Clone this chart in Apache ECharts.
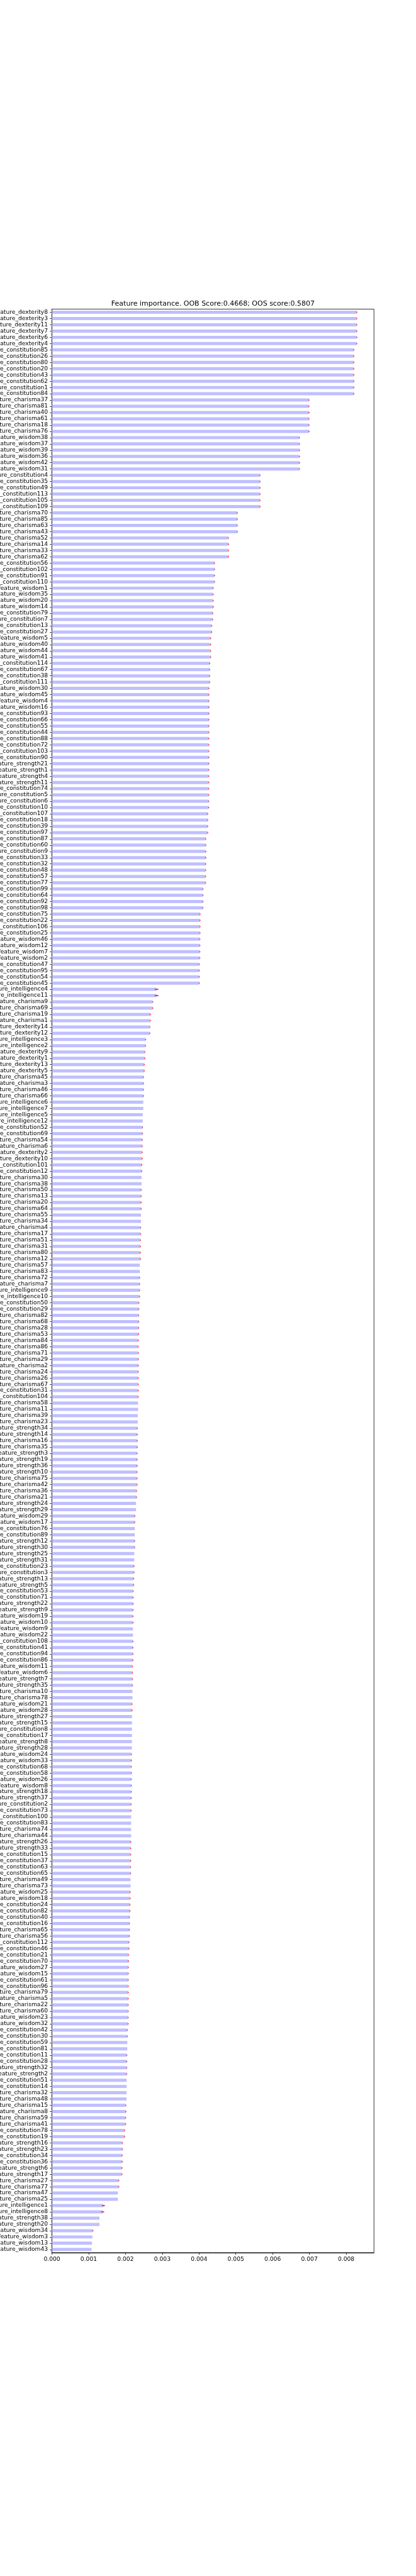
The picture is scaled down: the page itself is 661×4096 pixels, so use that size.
<!DOCTYPE html>
<html>
<head>
<meta charset="utf-8">
<script src="https://cdn.jsdelivr.net/npm/echarts@6/dist/echarts.min.js"></script>
<style>
html,body{margin:0;padding:0;background:#fff;}
#chart{width:661px;height:4096px;}
</style>
</head>
<body>
<div id="chart"></div>
<script>
// ---- data (top-to-bottom order) ----
const chartTitle = "Feature importance. OOB Score:0.4668; OOS score:0.5807";
const xTickValues = [0, 0.001, 0.002, 0.003, 0.004, 0.005, 0.006, 0.007, 0.008];
const xMax = 0.008756;

const features = [
"feature_dexterity8","feature_dexterity3","feature_dexterity11","feature_dexterity7","feature_dexterity6","feature_dexterity4",
"feature_constitution85","feature_constitution26","feature_constitution80","feature_constitution20","feature_constitution43","feature_constitution62","feature_constitution1","feature_constitution84",
"feature_charisma37","feature_charisma81","feature_charisma40","feature_charisma61","feature_charisma18","feature_charisma76",
"feature_wisdom38","feature_wisdom37","feature_wisdom39","feature_wisdom36","feature_wisdom42","feature_wisdom31",
"feature_constitution4","feature_constitution35","feature_constitution49","feature_constitution113","feature_constitution105","feature_constitution109",
"feature_charisma70","feature_charisma85","feature_charisma63","feature_charisma43",
"feature_charisma52","feature_charisma14","feature_charisma33","feature_charisma62",
"feature_constitution56","feature_constitution102","feature_constitution91","feature_constitution110",
"feature_wisdom1","feature_wisdom35","feature_wisdom20","feature_wisdom14",
"feature_constitution79","feature_constitution7",
"feature_constitution13","feature_constitution27",
"feature_wisdom5","feature_wisdom40","feature_wisdom44","feature_wisdom41",
"feature_constitution114","feature_constitution67","feature_constitution38","feature_constitution111",
"feature_wisdom30","feature_wisdom45","feature_wisdom4","feature_wisdom16",
"feature_constitution93","feature_constitution66","feature_constitution55","feature_constitution44",
"feature_constitution88","feature_constitution72","feature_constitution103","feature_constitution90",
"feature_strength21","feature_strength1","feature_strength4","feature_strength11",
"feature_constitution74","feature_constitution5","feature_constitution6","feature_constitution10",
"feature_constitution107","feature_constitution18","feature_constitution39","feature_constitution97",
"feature_constitution87","feature_constitution60","feature_constitution9","feature_constitution33",
"feature_constitution32","feature_constitution48","feature_constitution57","feature_constitution77",
"feature_constitution99","feature_constitution64","feature_constitution92","feature_constitution98",
"feature_constitution75","feature_constitution22","feature_constitution106","feature_constitution25",
"feature_wisdom46","feature_wisdom12",
"feature_wisdom7","feature_wisdom2",
"feature_constitution47","feature_constitution95","feature_constitution54","feature_constitution45",
"feature_intelligence4","feature_intelligence11",
"feature_charisma9","feature_charisma69",
"feature_charisma19","feature_charisma1",
"feature_dexterity14","feature_dexterity12",
"feature_intelligence3","feature_intelligence2",
"feature_dexterity9","feature_dexterity1",
"feature_dexterity13","feature_dexterity5",
"feature_charisma45","feature_charisma3","feature_charisma46","feature_charisma66",
"feature_intelligence6","feature_intelligence7",
"feature_intelligence5","feature_intelligence12",
"feature_constitution52","feature_constitution69",
"feature_charisma54","feature_charisma6",
"feature_dexterity2","feature_dexterity10",
"feature_constitution101","feature_constitution12",
"feature_charisma30","feature_charisma38",
"feature_charisma50","feature_charisma13","feature_charisma20","feature_charisma64",
"feature_charisma55","feature_charisma34",
"feature_charisma4","feature_charisma17",
"feature_charisma51","feature_charisma31","feature_charisma80","feature_charisma12",
"feature_charisma57","feature_charisma83",
"feature_charisma72","feature_charisma7",
"feature_intelligence9","feature_intelligence10",
"feature_constitution50","feature_constitution29",
"feature_charisma82","feature_charisma68","feature_charisma28","feature_charisma53",
"feature_charisma84","feature_charisma86","feature_charisma71","feature_charisma29","feature_charisma2","feature_charisma24","feature_charisma26","feature_charisma67",
"feature_constitution31","feature_constitution104",
"feature_charisma58","feature_charisma11",
"feature_charisma39","feature_charisma23",
"feature_strength34","feature_strength14",
"feature_charisma16","feature_charisma35",
"feature_strength3","feature_strength19","feature_strength36","feature_strength10",
"feature_charisma75","feature_charisma42",
"feature_charisma36","feature_charisma21",
"feature_strength24","feature_strength29",
"feature_wisdom29","feature_wisdom17",
"feature_constitution76","feature_constitution89",
"feature_strength12","feature_strength30",
"feature_strength25","feature_strength31",
"feature_constitution23","feature_constitution3",
"feature_strength13","feature_strength5",
"feature_constitution53","feature_constitution71",
"feature_strength22","feature_strength9",
"feature_wisdom19","feature_wisdom10",
"feature_wisdom9","feature_wisdom22",
"feature_constitution108","feature_constitution41","feature_constitution94","feature_constitution86",
"feature_wisdom11","feature_wisdom6",
"feature_strength7","feature_strength35",
"feature_charisma10","feature_charisma78",
"feature_wisdom21","feature_wisdom28",
"feature_strength27","feature_strength15",
"feature_constitution8","feature_constitution17",
"feature_strength8","feature_strength28",
"feature_wisdom24","feature_wisdom33",
"feature_constitution68","feature_constitution58",
"feature_wisdom26","feature_wisdom8",
"feature_strength18","feature_strength37",
"feature_constitution2","feature_constitution73",
"feature_constitution100","feature_constitution83",
"feature_charisma74","feature_charisma44",
"feature_strength26","feature_strength33",
"feature_constitution15","feature_constitution37",
"feature_constitution63","feature_constitution65",
"feature_charisma49","feature_charisma73",
"feature_wisdom25","feature_wisdom18",
"feature_constitution24","feature_constitution82",
"feature_constitution40","feature_constitution16",
"feature_charisma65","feature_charisma56",
"feature_constitution112","feature_constitution46",
"feature_constitution21","feature_constitution70",
"feature_wisdom27","feature_wisdom15",
"feature_constitution61","feature_constitution96",
"feature_charisma79","feature_charisma5",
"feature_charisma22","feature_charisma60",
"feature_wisdom23","feature_wisdom32",
"feature_constitution42","feature_constitution30",
"feature_constitution59","feature_constitution81",
"feature_constitution11","feature_constitution28",
"feature_strength32","feature_strength2",
"feature_constitution51","feature_constitution14",
"feature_charisma32","feature_charisma48",
"feature_charisma15","feature_charisma8",
"feature_charisma59","feature_charisma41",
"feature_constitution78","feature_constitution19",
"feature_strength16","feature_strength23",
"feature_constitution34","feature_constitution36",
"feature_strength6","feature_strength17",
"feature_charisma27","feature_charisma77",
"feature_charisma47","feature_charisma25",
"feature_intelligence1","feature_intelligence8",
"feature_strength38","feature_strength20",
"feature_wisdom34","feature_wisdom3","feature_wisdom13","feature_wisdom43"
];

const importance = [
0.00829,0.00829,0.00829,0.00829,0.00829,0.00829,
0.00821,0.00821,0.00821,0.00821,0.00821,0.00821,0.00821,0.00821,
0.00699,0.00699,0.00699,0.00699,0.00699,0.00699,
0.00673,0.00673,0.00673,0.00673,0.00673,0.00673,
0.00566,0.00566,0.00566,0.00566,0.00566,0.00566,
0.00504,0.00504,0.00504,0.00504,
0.00480,0.00480,0.00480,0.00480,
0.00442,0.00442,0.00442,0.00442,
0.004385,0.004385,0.004385,0.004385,
0.00437,0.00437,
0.004345,0.004345,
0.004317,0.004317,0.004317,0.004317,
0.00429,0.00429,0.00429,0.00429,
0.00427,0.00427,0.00427,0.00427,
0.004268,0.004268,0.004268,0.004268,
0.004266,0.004266,0.004266,0.004266,
0.004265,0.004265,0.004265,0.004265,
0.004263,0.004263,0.004263,0.004263,
0.004236,0.004236,0.004236,0.004236,
0.004184,0.004184,0.004184,0.004184,
0.004179,0.004179,0.004179,0.004179,
0.004106,0.004106,0.004106,0.004106,
0.004027,0.004027,0.004027,0.004027,
0.004022,0.004022,
0.004021,0.004021,
0.004006,0.004006,0.004006,0.004006,
0.002845,0.002845,
0.002741,0.002741,
0.002678,0.002678,
0.002662,0.002662,
0.002547,0.002547,
0.002526,0.002526,
0.002510,0.002510,
0.002490,0.002490,0.002490,0.002490,
0.002484,0.002484,
0.002469,0.002469,
0.002463,0.002463,
0.002458,0.002458,
0.002456,0.002456,
0.002442,0.002442,
0.002437,0.002437,
0.002427,0.002427,0.002427,0.002427,
0.002422,0.002422,
0.002411,0.002411,
0.002406,0.002406,0.002406,0.002406,
0.002390,0.002390,
0.002385,0.002385,
0.002384,0.002384,
0.002364,0.002364,
0.002359,0.002359,0.002359,0.002359,
0.002348,0.002348,0.002348,0.002348,0.002348,0.002348,0.002348,0.002348,
0.002347,0.002347,
0.002343,0.002343,
0.002333,0.002333,
0.002322,0.002322,
0.002321,0.002321,
0.002317,0.002317,0.002317,0.002317,
0.002316,0.002316,
0.002301,0.002301,
0.002286,0.002286,
0.002254,0.002254,
0.002253,0.002253,
0.002249,0.002249,
0.002238,0.002238,
0.002233,0.002233,
0.002223,0.002223,
0.002207,0.002207,
0.002206,0.002206,
0.002205,0.002205,
0.002204,0.002204,
0.002202,0.002202,0.002202,0.002202,
0.002191,0.002191,
0.002190,0.002190,
0.002189,0.002189,
0.002181,0.002181,
0.002176,0.002176,
0.002175,0.002175,
0.002174,0.002174,
0.002160,0.002160,
0.002159,0.002159,
0.002158,0.002158,
0.002157,0.002157,
0.002154,0.002154,
0.002153,0.002153,
0.002152,0.002152,
0.002144,0.002144,
0.002143,0.002143,
0.002139,0.002139,
0.002138,0.002138,
0.002129,0.002129,
0.002123,0.002123,
0.002108,0.002108,
0.002107,0.002107,
0.002097,0.002097,
0.002082,0.002082,
0.002076,0.002076,
0.002075,0.002075,
0.002074,0.002074,
0.002073,0.002073,
0.002072,0.002072,
0.002050,0.002050,
0.002049,0.002049,
0.002035,0.002035,
0.002034,0.002034,
0.002033,0.002033,
0.002030,0.002030,
0.002011,0.002011,
0.002004,0.002004,
0.001978,0.001978,
0.001918,0.001918,
0.001912,0.001912,
0.001905,0.001905,
0.001819,0.001819,
0.001793,0.001793,
0.001400,0.001380,
0.001292,0.001292,
0.001114,0.001101,0.001088,0.001075
];

const errors = [
1e-5,1e-5,1e-5,1e-5,1e-5,1e-5,
1e-5,1e-5,1e-5,1e-5,1e-5,1e-5,1e-5,1e-5,
1e-5,1e-5,1e-5,1e-5,1e-5,1e-5,
1e-5,1e-5,1e-5,1e-5,1e-5,1e-5,
1e-5,1e-5,1e-5,1e-5,1e-5,1e-5,
1e-5,1e-5,1e-5,1e-5,
1e-5,1e-5,1e-5,1e-5,
1e-5,1e-5,1e-5,1e-5,
1e-5,1e-5,1e-5,1e-5,
1e-5,1e-5,
1e-5,1e-5,
1e-5,1e-5,1e-5,1e-5,
1e-5,1e-5,1e-5,1e-5,
1e-5,1e-5,1e-5,1e-5,
1e-5,1e-5,1e-5,1e-5,
1e-5,1e-5,1e-5,1e-5,
1e-5,1e-5,1e-5,1e-5,
1e-5,1e-5,1e-5,1e-5,
1e-5,1e-5,1e-5,1e-5,
1e-5,1e-5,1e-5,1e-5,
1e-5,1e-5,1e-5,1e-5,
1e-5,1e-5,1e-5,1e-5,
1e-5,1e-5,1e-5,1e-5,
1e-5,1e-5,
1e-5,1e-5,
1e-5,1e-5,1e-5,1e-5,
5e-5,5e-5,
1e-5,1e-5,
1e-5,1e-5,
1e-5,1e-5,
1e-5,1e-5,
1e-5,1e-5,
1e-5,1e-5,
1e-5,1e-5,1e-5,1e-5,
0,0,
0,0,
1e-5,1e-5,
1e-5,1e-5,
1e-5,1e-5,
1e-5,1e-5,
0,0,
1e-5,1e-5,1e-5,1e-5,
0,0,
1e-5,1e-5,
1e-5,1e-5,1e-5,1e-5,
0,0,
1e-5,1e-5,
1e-5,1e-5,
1e-5,1e-5,
1e-5,1e-5,1e-5,1e-5,
1e-5,1e-5,1e-5,1e-5,1e-5,1e-5,1e-5,1e-5,
1e-5,1e-5,
0,0,
0,0,
1e-5,1e-5,
1e-5,1e-5,
1e-5,1e-5,1e-5,1e-5,
1e-5,1e-5,
1e-5,1e-5,
0,0,
1e-5,1e-5,
0,0,
1e-5,1e-5,
0,0,
1e-5,1e-5,
1e-5,1e-5,
1e-5,1e-5,
1e-5,1e-5,
1e-5,1e-5,
0,0,
1e-5,1e-5,1e-5,1e-5,
1e-5,1e-5,
1e-5,1e-5,
0,0,
1e-5,1e-5,
0,0,
0,0,
0,0,
1e-5,1e-5,
1e-5,1e-5,
1e-5,1e-5,
1e-5,1e-5,
1e-5,1e-5,
0,0,
0,0,
1e-5,1e-5,
1e-5,1e-5,
1e-5,1e-5,
0,0,
1e-5,1e-5,
1e-5,1e-5,
1e-5,1e-5,
1e-5,1e-5,
1e-5,1e-5,
1e-5,1e-5,
1e-5,1e-5,
1e-5,1e-5,
1e-5,1e-5,
1e-5,1e-5,
1e-5,1e-5,
1e-5,1e-5,
0,0,
1e-5,1e-5,
1e-5,1e-5,
0,0,
0,0,
1e-5,1e-5,
1e-5,1e-5,
1e-5,1e-5,
1e-5,1e-5,
1e-5,1e-5,
1e-5,1e-5,
1e-5,1e-5,
0,0,
4e-5,4e-5,
0,0,
1e-5,0,0,0
];

// ---- chart ----
const S = 0.917;
const FONT = "'DejaVu Sans', sans-serif";
const gLeft = 90 * S, gRight = 661 - 648 * S, gTop = 536 * S, gBottom = 4096 - 3906 * S;

const chart = echarts.init(document.getElementById('chart'), null, {renderer: 'canvas'});
chart.setOption({
  animation: false,
  backgroundColor: '#ffffff',
  grid: {left: gLeft, right: gRight, top: gTop, bottom: gBottom, show: true,
         containLabel: false, outerBoundsMode: 'none',
         borderColor: '#000', borderWidth: 0.8, backgroundColor: 'transparent'},
  graphic: [{
    type: 'text', x: (gLeft + (661 - gRight)) / 2, y: 530 * S + 2.6,
    style: {text: chartTitle, font: (12 * S).toFixed(2) + 'px ' + FONT, fill: '#000',
            textAlign: 'center', textVerticalAlign: 'bottom'}
  }],
  xAxis: {
    type: 'value', min: 0, max: xMax, position: 'bottom',
    splitLine: {show: false},
    axisLine: {show: true, onZero: false, lineStyle: {color: '#000', width: 0.8}},
    axisTick: {show: true, length: 3.5 * S, lineStyle: {color: '#000', width: 0.8}, customValues: xTickValues},
    axisLabel: {customValues: xTickValues, formatter: v => v.toFixed(3), color: '#000',
                fontSize: 10 * S, fontFamily: FONT, margin: 7 * S}
  },
  yAxis: {
    type: 'category', data: features, inverse: true,
    axisLine: {show: true, lineStyle: {color: '#000', width: 0.8}},
    axisTick: {show: true, alignWithLabel: true, interval: 0, length: 3.5 * S, lineStyle: {color: '#000', width: 0.8}},
    axisLabel: {interval: 0, color: '#000', fontSize: 10 * S, fontFamily: FONT, margin: 7 * S},
    splitLine: {show: false}
  },
  series: [
    {
      type: 'bar', data: importance, barWidth: '50%',
      itemStyle: {color: '#bfbfff'}, z: 2
    },
    {
      type: 'custom', z: 3,
      data: importance.map((v, i) => [v, errors[i], i]),
      encode: {x: 0, y: 2},
      renderItem: function (params, api) {
        const v = api.value(0), e = api.value(1), i = api.value(2);
        if (!e) return null;
        const p1 = api.coord([v - e, i]), p2 = api.coord([v + e, i]);
        const w = Math.max(p2[0] - p1[0], 1.4);
        const cx = (p1[0] + p2[0]) / 2;
        return {type: 'rect', shape: {x: cx - w / 2, y: p1[1] - 0.9, width: w, height: 1.8},
                style: {fill: '#ff2b2b'}};
      }
    }
  ]
});
</script>
</body>
</html>
